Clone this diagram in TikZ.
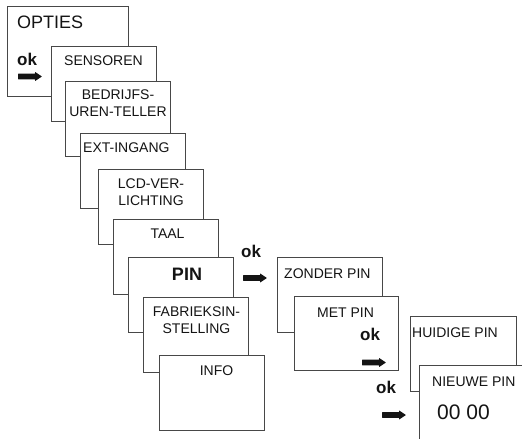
\documentclass[tikz,border=0pt]{standalone}
\usepackage{fontspec}
\setmainfont{Liberation Sans}
\begin{document}
\begin{tikzpicture}[x=1pt,y=-1pt,
  card/.style={draw=black!72, line width=0.9pt, fill=white, anchor=north west,
    inner sep=0pt, minimum width=105pt, minimum height=75pt},
  lbl/.style={inner sep=0pt, text=black!92, align=center,
    font=\fontsize{14}{17}\selectfont},
  oklbl/.style={inner sep=0pt, text=black!92, anchor=base west,
    font=\fontsize{17}{20}\selectfont\bfseries},
  bigarrow/.pic={\fill[black!92, rounded corners=0.4pt] (0,-2.8) -- (17,-2.8) -- (17,-4.6) -- (24,0)
    -- (17,4.6) -- (17,2.8) -- (0,2.8) -- cycle;}]
\useasboundingbox (0,0) rectangle (522,439);
\clip (0,0) rectangle (522,439);
% OPTIES
\node[card, minimum width=121pt, minimum height=90pt] (opties) at (7,6) {};
\node[lbl, anchor=base west, font=\fontsize{18}{20}\selectfont] (tOpties) at (17,28) {OPTIES};
\node[oklbl] (ok1) at (17,65) {ok};
\pic (ar1) at (18,76.5) {bigarrow};
% menu cards
\node[card] (sens) at (51,46) {};
\node[lbl, anchor=base] (tSens) at (103.5,65) {SENSOREN};
\node[card] (bedr) at (65,81) {};
\node[lbl] (tBedr) at (118,103.5) {BEDRIJFS-\\UREN-TELLER};
\node[card] (ext) at (80,133) {};
\node[lbl, anchor=base west] (tExt) at (83,152) {EXT-INGANG};
\node[card] (lcd) at (98,169) {};
\node[lbl] (tLcd) at (151,192.5) {LCD-VER-\\LICHTING};
\node[card] (taal) at (113,219) {};
\node[lbl, anchor=base] (tTaal) at (167.5,238) {TAAL};
\node[card] (pin) at (128,257) {};
\node[lbl, anchor=base, font=\fontsize{18}{20}\selectfont\bfseries] (tPin) at (187,280) {PIN};
\node[card] (fabr) at (143,297) {};
\node[lbl] (tFabr) at (196.5,320.5) {FABRIEKSIN-\\STELLING};
\node[card] (info) at (159,355) {};
\node[lbl, anchor=base] (tInfo) at (216.5,375) {INFO};
% ok -> PIN submenu
\node[oklbl] (ok2) at (241,257) {ok};
\pic (ar2) at (243,278) {bigarrow};
\node[card] (zonder) at (277,257) {};
\node[lbl, anchor=base west] (tZonder) at (284,278) {ZONDER PIN};
\node[card, minimum width=104pt, minimum height=74pt] (met) at (294,296) {};
\node[lbl, anchor=base west] (tMet) at (317,317) {MET PIN};
\node[oklbl] (ok3) at (360,340) {ok};
\pic (ar3) at (362,362.5) {bigarrow};
% ok -> new pin
\node[oklbl] (ok4) at (376,393) {ok};
\pic (ar4) at (382,415) {bigarrow};
\node[card, minimum width=106pt] (huidig) at (410,316) {};
\node[lbl, anchor=base west] (tHuidig) at (412,337) {HUIDIGE PIN};
\node[card, minimum width=130pt, minimum height=100pt] (nieuw) at (419,365) {};
\node[lbl, anchor=base west] (tNieuw) at (432,386) {NIEUWE PIN};
\node[lbl, anchor=base west, font=\fontsize{21}{24}\selectfont] (tCode) at (437,419) {00 00};
\end{tikzpicture}
\end{document}
